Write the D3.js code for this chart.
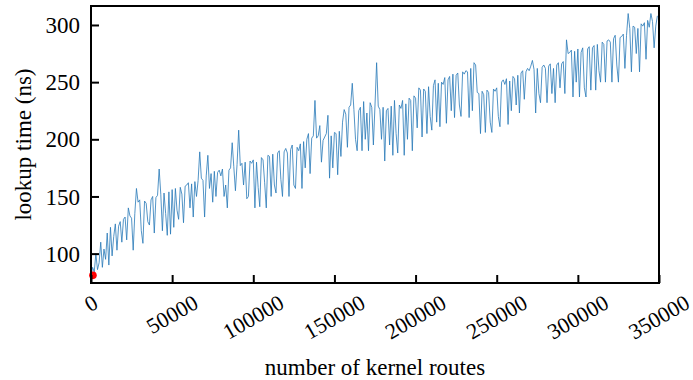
<!DOCTYPE html>
<html>
<head>
<meta charset="utf-8">
<script src="https://cdn.jsdelivr.net/npm/d3@7"></script>
<style>
  body { margin: 0; background: #fff; }
  svg text { font-family: "Liberation Serif", "Times New Roman", serif; fill: #000; }
</style>
</head>
<body>
<svg id="chart" width="693" height="380"></svg>
<script>
// lookup time (ns), one sample every 1000 kernel routes
const routeStep = 1000;
const lookupNs = [
  80, 88, 84, 100, 86, 92, 110, 88, 104, 95,
  118, 90, 123, 98, 115, 126, 103, 124, 128, 110,
  130, 132, 112, 140, 133, 131, 103, 135, 157, 145,
  147, 120, 109, 146, 144, 128, 125, 147, 150, 118,
  149, 151, 174, 152, 120, 153, 135, 116, 154, 117,
  156, 123, 157, 138, 130, 158, 152, 127, 159, 160,
  162, 140, 161, 132, 163, 150, 164, 189, 166, 164,
  132, 168, 186, 157, 170, 145, 172, 150, 171, 173,
  168, 174, 150, 160, 140, 173, 175, 197, 176, 155,
  178, 208, 177, 179, 160, 180, 148, 150, 181, 179,
  182, 140, 180, 158, 141, 184, 182, 162, 140, 186,
  185, 150, 187, 160, 153, 188, 190, 165, 150, 189,
  192, 188, 150, 191, 195, 160, 157, 193, 190, 196,
  157, 198, 175, 200, 205, 170, 201, 203, 234, 201,
  203, 212, 180, 199, 202, 205, 221, 166, 203, 175,
  206, 205, 169, 207, 185, 215, 226, 222, 193, 228,
  230, 249, 226, 200, 190, 225, 228, 190, 233, 200,
  223, 190, 232, 228, 195, 230, 267, 229, 226, 200,
  228, 181, 225, 227, 195, 229, 186, 234, 205, 188,
  230, 227, 234, 186, 231, 200, 236, 234, 190, 238,
  236, 210, 245, 243, 202, 244, 242, 205, 246, 220,
  208, 247, 252, 215, 249, 211, 250, 248, 254, 214,
  252, 255, 225, 257, 219, 256, 258, 230, 220, 259,
  257, 260, 259, 219, 262, 225, 267, 265, 241, 240,
  205, 242, 239, 206, 243, 241, 215, 206, 244, 242,
  245, 220, 211, 250, 252, 248, 253, 213, 251, 225,
  255, 253, 230, 256, 223, 258, 260, 235, 259, 262,
  260, 264, 269, 261, 223, 262, 240, 232, 263, 265,
  262, 232, 264, 266, 240, 262, 232, 265, 267, 245,
  266, 268, 240, 287, 275, 276, 278, 237, 277, 250,
  279, 237, 276, 280, 245, 237, 279, 281, 243, 280,
  282, 243, 283, 260, 250, 285, 283, 250, 286, 287,
  285, 250, 288, 291, 265, 250, 289, 290, 292, 262,
  291, 310, 297, 259, 299, 298, 275, 297, 259, 301,
  299, 302, 270, 304, 298, 310, 303, 280, 299, 308
];
const markerRoutes = [1200];
const markerNs = [81];
const xTicks = [0, 50000, 100000, 150000, 200000, 250000, 300000, 350000];
const yTicks = [100, 150, 200, 250, 300];

const W = 693, H = 380;
const margin = { top: 6, right: 34, bottom: 97, left: 91 };
const svg = d3.select("#chart");

const x = d3.scaleLinear().domain([0, 350000]).range([margin.left, W - margin.right]);
const y = d3.scaleLinear().domain([74.3, 316.6]).range([H - margin.bottom, margin.top]);

svg.append("defs").append("clipPath").attr("id", "plotclip")
  .append("rect")
  .attr("x", margin.left).attr("y", margin.top)
  .attr("width", x.range()[1] - margin.left)
  .attr("height", y.range()[0] - margin.top);

const pts = lookupNs.map((v, i) => [i * routeStep, v]);

svg.append("path")
  .datum(pts)
  .attr("clip-path", "url(#plotclip)")
  .attr("fill", "none")
  .attr("stroke", "#2a7ab9")
  .attr("stroke-opacity", 0.9)
  .attr("stroke-width", 0.9)
  .attr("stroke-linejoin", "round")
  .attr("d", d3.line().x(d => x(d[0])).y(d => y(d[1])));

svg.selectAll("circle.mark")
  .data(markerRoutes.map((r, i) => [r, markerNs[i]]))
  .enter().append("circle")
  .attr("class", "mark")
  .attr("cx", d => x(d[0]))
  .attr("cy", d => y(d[1]))
  .attr("r", 3.8)
  .attr("fill", "#ff0000");

// ticks point inward
const tickLen = 8;

const xAxis = d3.axisBottom(x).tickValues(xTicks).tickSize(-tickLen).tickFormat("").tickSizeOuter(0);
svg.append("g")
  .attr("transform", `translate(0,${y.range()[0]})`)
  .call(xAxis)
  .call(g => g.select(".domain").remove())
  .call(g => g.selectAll(".tick line").attr("stroke", "#000").attr("stroke-width", 2));

const yAxis = d3.axisLeft(y).tickValues(yTicks).tickSize(-tickLen).tickFormat("").tickSizeOuter(0);
svg.append("g")
  .attr("transform", `translate(${margin.left},0)`)
  .call(yAxis)
  .call(g => g.select(".domain").remove())
  .call(g => g.selectAll(".tick line").attr("stroke", "#000").attr("stroke-width", 2));

// frame
svg.append("rect")
  .attr("x", margin.left).attr("y", margin.top)
  .attr("width", x.range()[1] - margin.left)
  .attr("height", y.range()[0] - margin.top)
  .attr("fill", "none").attr("stroke", "#000").attr("stroke-width", 2);

// y tick labels
svg.append("g").selectAll("text")
  .data(yTicks).enter().append("text")
  .attr("x", margin.left - 11)
  .attr("y", d => y(d))
  .attr("dy", "0.35em")
  .attr("text-anchor", "end")
  .style("font-size", "23px")
  .text(d => d);

// x tick labels, rotated 30 degrees, centred under each tick
const fsx = 22;
const ang = 30 * Math.PI / 180;
const xLab = svg.append("g").selectAll("text")
  .data(xTicks).enter().append("text")
  .attr("text-anchor", "middle")
  .attr("dominant-baseline", "central")
  .style("font-size", fsx + "px")
  .text(d => d);
xLab.each(function(d) {
  const w = this.getComputedTextLength();
  const hh = fsx * 1.1;
  const boxH = w * Math.sin(ang) + hh * Math.cos(ang);
  const cy = y.range()[0] + 7 + boxH / 2;
  d3.select(this).attr("transform", `translate(${x(d)},${cy}) rotate(-30)`);
});

// axis titles
svg.append("text")
  .attr("x", (margin.left + x.range()[1]) / 2)
  .attr("y", 375)
  .attr("text-anchor", "middle")
  .style("font-size", "23px")
  .text("number of kernel routes");

svg.append("text")
  .attr("transform", `translate(31,${(margin.top + y.range()[0]) / 2}) rotate(-90)`)
  .attr("text-anchor", "middle")
  .style("font-size", "23px")
  .text("lookup time (ns)");
</script>
</body>
</html>
